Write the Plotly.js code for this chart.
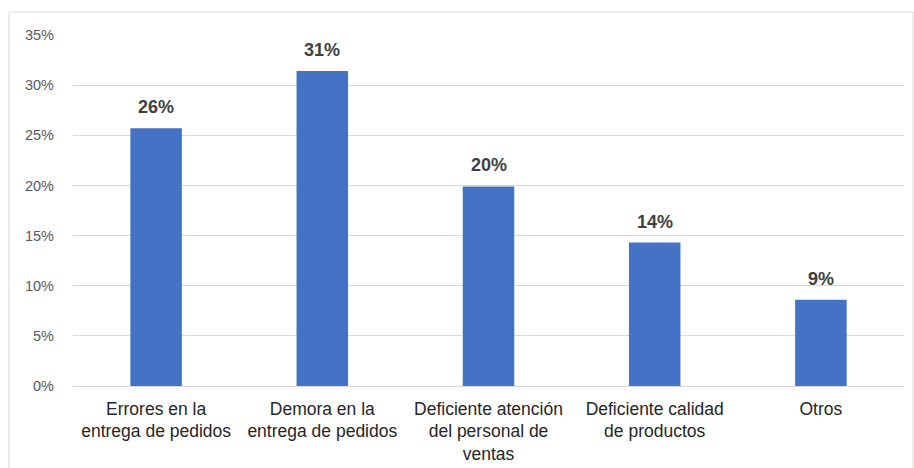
<!DOCTYPE html>
<html><head><meta charset="utf-8">
<script src="https://cdn.plot.ly/plotly-3.0.1.min.js"></script>
<style>html,body{margin:0;padding:0;background:#fff}#chart{width:914px;height:468px}</style>
</head><body><div id="chart"></div>
<script>
const categories = [
  "Errores en la<br>entrega de pedidos",
  "Demora en la<br>entrega de pedidos",
  "Deficiente atención<br>del personal de<br>ventas",
  "Deficiente calidad<br>de productos",
  "Otros"
];
const values = [0.257, 0.314, 0.199, 0.143, 0.086];
const tickVals = [0, 0.05, 0.10, 0.15, 0.20, 0.25, 0.30, 0.35];
const tickText = ["0%", "5%", "10%", "15%", "20%", "25%", "30%", "35%"];

const trace = {
  type: "bar",
  x: categories,
  y: values,
  marker: {color: "#4472C4"},
  hoverinfo: "none"
};

const annotations = categories.map((c, i) => ({
  x: c, y: values[i], xref: "x", yref: "y",
  text: Math.round(values[i] * 100) + "%",
  showarrow: false, yanchor: "bottom", yshift: 9,
  font: {family: "Liberation Sans, Arial, sans-serif", size: 18, color: "#404040", weight: "bold"}
}));

const layout = {
  width: 914, height: 468,
  margin: {l: 73, r: 10, t: 35, b: 82},
  paper_bgcolor: "#fff", plot_bgcolor: "#fff",
  bargap: 0.69,
  showlegend: false,
  font: {family: "Liberation Sans, Arial, sans-serif"},
  annotations: annotations,
  xaxis: {
    type: "category",
    showgrid: false, zeroline: false, showline: false,
    tickfont: {size: 17.5, color: "#262626"},
    ticks: "", ticklabelstandoff: 10
  },
  yaxis: {
    range: [0, 0.35],
    tickvals: tickVals, ticktext: tickText,
    showgrid: true, gridcolor: "#D9D9D9", gridwidth: 1,
    zeroline: true, zerolinecolor: "#D9D9D9", zerolinewidth: 1,
    showline: false, ticks: "",
    tickfont: {size: 14.5, color: "#595959"},
    ticklabelstandoff: 18
  },
  shapes: [{
    type: "rect", xref: "paper", yref: "paper",
    x0: -64/831, x1: 1 + 9/831, y0: -0.25, y1: 1 + 23/351.7,
    line: {color: "#D9D9D9", width: 1}, fillcolor: "rgba(0,0,0,0)", layer: "below"
  }]
};

Plotly.newPlot("chart", [trace], layout, {displayModeBar: false, staticPlot: true});
</script>
</body></html>
